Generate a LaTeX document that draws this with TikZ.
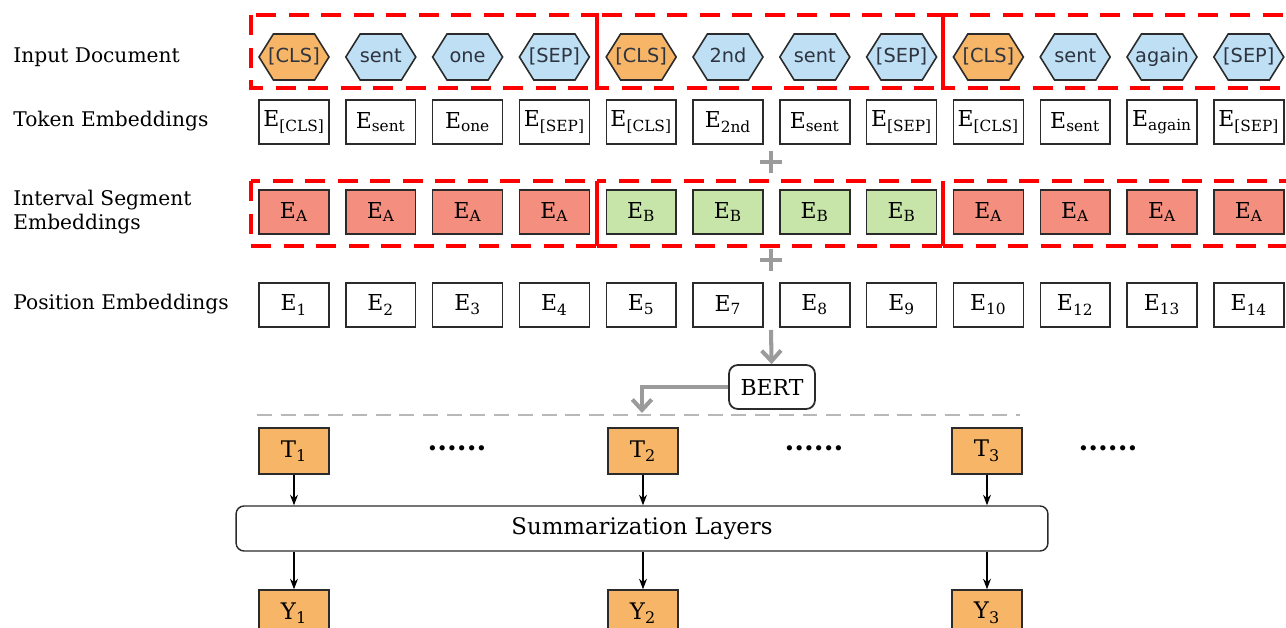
\documentclass[tikz,border=0pt]{standalone}
\usepackage{fontspec}
\setmainfont{DejaVu Serif}
\newfontfamily\tokfont{DejaVu Sans}
\usepackage{xcolor}
\usepackage{tikz}
\usetikzlibrary{shapes.symbols,arrows.meta,positioning,calc}
\definecolor{bsOrange}{HTML}{F7B567}
\definecolor{bsBlue}{HTML}{BEDFF4}
\definecolor{bsRed}{HTML}{F48E7F}
\definecolor{bsGreen}{HTML}{C7E5A9}
\definecolor{bsGrey}{HTML}{9B9B9B}
\definecolor{bsDash}{HTML}{B8B8B8}
\definecolor{bsLine}{HTML}{2B2B2B}
\definecolor{bsText}{HTML}{2E3440}

\begin{document}
\begin{tikzpicture}[x=0.02cm,y=-0.02cm,
  lab/.style={anchor=west,align=left,inner sep=0pt,font=\fontsize{11.5}{14}\selectfont},
  hx/.style={draw=bsLine,signal,signal to=east and west,signal pointer angle=116,
            minimum width=1.4cm,minimum height=0.92cm,inner sep=0pt,line width=0.9pt,
            text=bsText,text height=8.2pt,text depth=2.4pt,
            font=\tokfont\fontsize{11}{13}\selectfont},
  e/.style={draw=bsLine,fill=white,minimum width=1.4cm,minimum height=0.88cm,
            inner sep=0pt,line width=0.8pt,font=\fontsize{12.5}{14}\selectfont},
  o/.style={e,fill=bsOrange,minimum height=0.92cm,font=\fontsize{13}{15}\selectfont},
  seg/.style={draw=red,line width=2.3pt,dash pattern=on 11.5pt off 7pt},
  g/.style={-{Straight Barb[length=6pt,width=11pt]},bsGrey,line width=2.3pt},
  a/.style={-{Stealth[length=6pt,width=4.5pt]},black,line width=0.7pt}]
\useasboundingbox (0,0) rectangle (1286,628);
\clip (0,0) rectangle (1286,628);

% row labels
\node[lab] (l1) at (13,57) {Input Document};
\node[lab] (l2) at (13,121) {Token Embeddings};
\node[lab] (l3) at (13,212) {Interval Segment\\Embeddings};
\node[lab] (l4) at (13,304) {Position Embeddings};

% input tokens
\foreach \t/\c [count=\i] in {[CLS]/bsOrange,sent/bsBlue,one/bsBlue,[SEP]/bsBlue,
    [CLS]/bsOrange,2nd/bsBlue,sent/bsBlue,[SEP]/bsBlue,
    [CLS]/bsOrange,sent/bsBlue,again/bsBlue,[SEP]/bsBlue}
  \node[hx,fill=\c] (in\i) at ({294+86.8*(\i-1)},57) {\makebox[0pt]{\t}};

% embedding rows
\foreach \t [count=\i] in {[CLS],sent,one,[SEP],[CLS],2nd,sent,[SEP],[CLS],sent,again,[SEP]}
  \node[e] (tok\i) at ({294+86.8*(\i-1)},122) {E\textsubscript{\t}};
\foreach \s/\c [count=\i] in {A/bsRed,A/bsRed,A/bsRed,A/bsRed,B/bsGreen,B/bsGreen,
    B/bsGreen,B/bsGreen,A/bsRed,A/bsRed,A/bsRed,A/bsRed}
  \node[e,fill=\c] (sg\i) at ({294+86.8*(\i-1)},212) {E\textsubscript{\s}};
\foreach \p [count=\i] in {1,2,3,4,5,7,8,9,10,12,13,14}
  \node[e] (pos\i) at ({294+86.8*(\i-1)},305) {E\textsubscript{\p}};

% sentence groups
\draw[seg] (251,15) rectangle (597,88);
\draw[seg] (597,15) rectangle (943,88);
\draw[seg] (943,15) rectangle (1300,88);
\draw[seg] (251,181) rectangle (597,246);
\draw[seg] (597,181) rectangle (943,246);
\draw[seg] (943,181) rectangle (1300,246);
\draw[red,line width=2.3pt] (597,15) -- (597,88) (943,15) -- (943,88)
  (597,181) -- (597,246) (943,181) -- (943,246);

% plus signs
\draw[bsGrey,line width=2.8pt] (760,162) -- (782,162) (771,151) -- (771,173);
\draw[bsGrey,line width=2.8pt] (760,260) -- (782,260) (771,249) -- (771,271);

% encoder
\node[draw=bsLine,rounded corners=5pt,line width=1pt,minimum width=1.72cm,
      minimum height=0.88cm,font=\fontsize{12.5}{14}\selectfont] (bert) at (772,387) {BERT};
\coordinate (sum) at (771,330);
\coordinate (hid) at (642,413);
\draw[g] (sum) -- (bert);
\draw[g] (bert) -| (hid);
\draw[bsDash,line width=1.6pt,dash pattern=on 8.5pt off 5pt] (257,415) -- (1020,415);

% summarization
\node[o] (t1) at (294,451) {T\textsubscript{1}};
\node[o] (t2) at (643,451) {T\textsubscript{2}};
\node[o] (t3) at (987,451) {T\textsubscript{3}};
\foreach \x [count=\i] in {457,814,1108}
  \node[font=\bfseries\fontsize{16}{16}\selectfont] (dots\i) at (\x,448) {......};
\node[draw=bsLine,fill=white,rounded corners=4.5pt,line width=0.8pt,minimum width=16.24cm,
      minimum height=0.9cm,font=\fontsize{13}{15}\selectfont] (summ) at (642,528.5)
      {Summarization Layers};
\node[o] (y1) at (294,613) {Y\textsubscript{1}};
\node[o] (y2) at (643,613) {Y\textsubscript{2}};
\node[o] (y3) at (987,613) {Y\textsubscript{3}};
\foreach \k in {1,2,3} {
  \draw[a] (t\k) -- (t\k |- summ.north);
  \draw[a] (summ.south -| y\k) -- (y\k);
}
\end{tikzpicture}
\end{document}
